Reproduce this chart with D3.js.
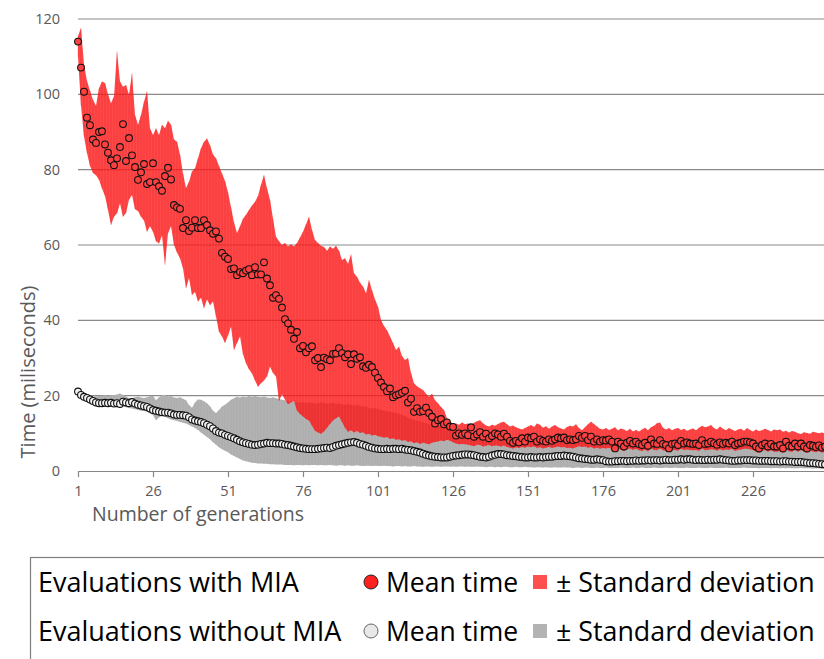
<!DOCTYPE html>
<html>
<head>
<meta charset="utf-8">
<script src="https://cdn.jsdelivr.net/npm/d3@7"></script>
<style>
  body { margin: 0; background: #fff; }
  svg { display: block; font-family: "Open Sans", sans-serif; }
</style>
</head>
<body>
<div id="chart"></div>
<script>
// mean time per generation, evaluations with MIA (gens 1..250)
const meanWithMIA = [
  114, 107.1, 100.7, 93.8, 91.8, 88.0, 87.1, 90.0, 90.2, 86.7,
  84.5, 82.5, 81.2, 83.0, 86.0, 92.1, 82.3, 88.4, 83.8, 80.7,
  77.3, 79.3, 81.5, 76.2, 76.7, 81.7, 76.7, 75.6, 74.4, 78.3,
  80.5, 77.4, 70.6, 70.0, 69.6, 64.5, 66.6, 63.7, 64.6, 66.6,
  64.5, 64.5, 66.6, 65.3, 63.9, 63.0, 63.6, 61.7, 57.9, 56.9,
  56.3, 53.6, 53.8, 52.0, 52.8, 52.5, 53.2, 53.6, 52.0, 54.1,
  52.2, 52.2, 55.4, 51.1, 49.3, 46.0, 46.7, 45.7, 43.4, 40.3,
  39.2, 37.5, 35.1, 36.9, 32.6, 33.2, 31.5, 32.6, 33.1, 29.4,
  30.0, 27.6, 30.1, 29.7, 29.4, 31.1, 31.2, 32.6, 31.3, 30.2,
  31.0, 28.4, 31.0, 29.8, 30.2, 27.8, 27.4, 28.2, 27.6, 26.1,
  24.7, 23.5, 22.3, 21.2, 21.9, 19.6, 20.1, 20.4, 20.8, 21.3,
  18.2, 19.2, 15.7, 16.7, 15.7, 15.9, 16.8, 15.4, 14.4, 12.6,
  13.5, 13.8, 12.4, 12.9, 11.8, 11.7, 9.4, 10.0, 9.6, 10.0,
  9.5, 11.6, 9.1, 9.7, 10.3, 9.1, 9.9, 8.7, 9.3, 10.0,
  9.7, 9.1, 9.9, 9.1, 8.0, 7.5, 8.0, 7.6, 8.7, 7.8,
  8.9, 8.7, 9.1, 7.8, 8.4, 8.0, 7.8, 8.4, 8.0, 8.4,
  8.9, 8.7, 8.9, 8.2, 8.4, 8.2, 8.4, 9.3, 8.8, 9.3,
  8.2, 9.1, 7.8, 8.4, 7.8, 8.2, 8.1, 8.4, 7.8, 6.0,
  7.8, 7.3, 6.5, 7.5, 8.0, 7.3, 7.8, 7.2, 6.9, 7.5,
  6.7, 8.4, 7.3, 7.2, 8.2, 7.2, 6.9, 6.0, 7.2, 7.3,
  6.9, 8.0, 7.3, 7.6, 7.3, 7.2, 7.3, 6.9, 8.2, 7.2,
  7.3, 7.8, 7.4, 7.0, 7.6, 7.2, 7.5, 7.3, 7.8, 6.9,
  7.3, 7.5, 7.8, 7.8, 7.6, 7.3, 6.5, 6.0, 6.9, 7.3,
  6.5, 7.2, 6.5, 6.5, 6.9, 6.0, 7.8, 6.7, 6.5, 7.3,
  6.5, 7.3, 6.5, 6.0, 6.9, 6.7, 6.4, 6.8, 6.2, 6.5
];
// upper edge of the deviation band, with MIA
const highWithMIA = [
  115.5, 117.6, 108, 103.5, 101, 98.5, 97, 101.6, 103.4, 103,
  100, 97.6, 99.5, 111.4, 103.4, 102, 102.5, 99.9, 105.6, 94.5,
  91.9, 94.5, 98, 100.8, 91, 89.2, 91, 89.2, 91.9, 91,
  93, 91.9, 88, 87.4, 84, 79, 75.1, 76.8, 79.5, 80.4,
  83, 85.7, 87.4, 88.3, 86.5, 84, 83, 81, 79, 77,
  74, 70, 66, 63.2, 65, 67, 68, 69.3, 70.5, 71.5,
  73, 76, 78.6, 75, 72, 67, 62.2, 61, 60, 60.5,
  59.6, 60.2, 59.6, 60.5, 62, 63.5, 65.5, 67.5, 64, 61.3,
  60.5, 59.8, 59.5, 58.5, 59.6, 59, 59.8, 58.5, 56, 56.5,
  55, 57.5, 52.5, 51.6, 50, 49, 47.2, 50.7, 48, 45.5,
  43.6, 40.1, 38.5, 37.4, 35.7, 34, 32.1, 33, 30.5, 29.5,
  30, 26, 23.3, 22.5, 22, 21.5, 20.5, 19.7, 20.5, 18.8,
  18, 17, 16.2, 14, 12.7, 12.2, 12.6, 12.3, 12.9, 12.4,
  12.6, 12.2, 12.8, 13.2, 13.5, 12.7, 12.1, 11.8, 12.3, 12.0,
  12.5, 12.9, 13.1, 12.4, 11.8, 12.1, 11.6, 11.3, 11.0, 11.4,
  11.8, 12.2, 11.7, 12.6, 12.3, 11.5, 11.9, 11.2, 11.8, 12.2,
  11.6, 11.3, 11.0, 11.7, 12.0, 11.8, 12.4, 11.4, 10.8, 11.6,
  12.4, 13.1, 12.5, 11.8, 11.2, 11.0, 11.4, 10.9, 11.2, 11.6,
  10.8, 11.3, 11.0, 10.6, 11.2, 10.5, 10.9, 10.5, 11.0, 11.5,
  10.8, 11.6, 12.0, 12.7, 12.9, 11.5, 11.0, 11.4, 10.8, 11.2,
  11.4, 10.9, 11.2, 10.7, 11.0, 11.3, 10.8, 11.5, 12.0, 11.6,
  11.8, 12.2, 11.4, 11.0, 11.8, 11.2, 10.8, 11.4, 11.0, 10.6,
  11.0, 11.2, 10.7, 11.4, 10.9, 10.5, 11.0, 10.6, 10.8, 11.2,
  10.9, 10.5, 11.0, 10.8, 11.0, 10.4, 10.7, 10.2, 10.6, 10.4,
  10.0, 9.8, 10.3, 10.1, 9.9, 10.4, 10.2, 10.0, 10.2, 9.9
];
// lower edge of the deviation band, with MIA
const lowWithMIA = [
  110, 97, 88.8, 84.4, 81, 79.1, 78.5, 77.3, 75, 73,
  69.3, 65.3, 67.5, 68.4, 71, 67.5, 68.5, 72, 73.3, 69.5,
  69, 67.5, 66.5, 63.5, 65, 63.5, 61, 60.4, 62.5, 54.7,
  63.1, 65, 60, 58, 56.5, 53.8, 48.5, 51.2, 46.7, 47.5,
  45, 46, 43.2, 45.5, 44, 45, 41, 37, 35.7, 34,
  36, 38.3, 32.1, 34, 35.7, 31, 28.6, 27, 25.9, 24,
  22.4, 23.3, 24, 25.1, 27.7, 26, 25.1, 18.6, 20.4, 19,
  17.7, 18.2, 18.6, 16, 15.1, 14.5, 13.8, 13.4, 12, 10.7,
  10.2, 9.9, 10.5, 11.5, 12.5, 13.4, 14, 14.5, 13, 11.5,
  10.4, 10.8, 10.2, 10.6, 10.1, 10.3, 9.7, 9.9, 9.4, 9.6,
  9.2, 9.1, 8.8, 9.0, 8.5, 8.7, 8.3, 8.4, 8.0, 8.2,
  7.7, 7.9, 7.4, 7.6, 7.2, 7.5, 7.3, 7.1, 7.5, 7.7,
  7.8, 8.1, 7.9, 8.3, 8.0, 7.6, 7.3, 7.1, 7.2, 7.1,
  7.0, 6.8, 6.6, 7.0, 6.9, 6.5, 6.7, 6.9, 6.6, 6.8,
  6.7, 6.5, 6.8, 6.4, 6.2, 6.0, 6.3, 6.1, 6.4, 6.2,
  6.5, 6.3, 6.6, 6.1, 6.3, 6.0, 6.2, 6.4, 6.1, 6.3,
  6.5, 6.3, 6.4, 6.1, 6.2, 6.0, 6.3, 6.6, 6.4, 6.5,
  6.2, 6.4, 6.0, 6.2, 5.9, 6.1, 6.0, 6.2, 5.8, 5.2,
  5.9, 5.6, 5.3, 5.7, 6.0, 5.6, 5.9, 5.5, 5.3, 5.7,
  5.2, 6.0, 5.6, 5.5, 6.0, 5.5, 5.3, 5.0, 5.5, 5.6,
  5.4, 5.9, 5.6, 5.7, 5.6, 5.5, 5.6, 5.3, 6.0, 5.5,
  5.6, 5.8, 5.7, 5.4, 5.8, 5.5, 5.7, 5.6, 5.9, 5.3,
  5.6, 5.7, 5.9, 5.9, 5.8, 5.6, 5.1, 4.8, 5.3, 5.6,
  5.1, 5.5, 5.1, 5.1, 5.3, 4.8, 5.9, 5.2, 5.1, 5.6,
  5.1, 5.6, 5.1, 4.8, 5.3, 5.2, 5.0, 5.3, 4.9, 5.1
];
// mean time per generation, evaluations without MIA
const meanWithoutMIA = [
  21.1, 20.2, 19.7, 19.4, 19.0, 18.6, 18.2, 18.0, 18.0, 18.1,
  18.0, 18.1, 17.9, 18.0, 17.8, 18.4, 18.2, 18.0, 18.3, 17.9,
  17.6, 17.4, 17.2, 17.0, 16.6, 16.2, 16.0, 15.8, 15.6, 15.5,
  15.5, 15.3, 15.0, 14.9, 14.9, 14.8, 14.7, 14.3, 13.7, 13.4,
  13.2, 13.0, 12.7, 12.3, 11.9, 11.3, 10.6, 10.2, 10.0, 9.6,
  9.3, 9.0, 8.7, 8.3, 7.9, 7.6, 7.4, 7.2, 7.0, 6.9,
  7.0, 7.2, 7.3, 7.5, 7.4, 7.4, 7.3, 7.3, 7.2, 7.0,
  6.9, 6.7, 6.5, 6.3, 6.1, 6.0, 5.9, 5.8, 5.8, 5.8,
  5.9, 6.0, 6.1, 6.2, 6.1, 6.4, 6.7, 6.9, 7.1, 7.3,
  7.5, 7.6, 7.7, 7.5, 7.2, 7.0, 6.7, 6.4, 6.2, 6.0,
  5.9, 5.8, 5.8, 5.9, 5.8, 5.9, 5.9, 5.8, 5.9, 5.7,
  5.6, 5.5, 5.3, 5.1, 4.9, 4.6, 4.3, 4.1, 3.9, 3.8,
  3.7, 3.6, 3.6, 3.6, 3.8, 4.0, 4.1, 4.2, 4.3, 4.4,
  4.4, 4.3, 4.2, 4.0, 3.8, 3.7, 3.6, 3.8, 4.1, 4.3,
  4.5, 4.5, 4.4, 4.2, 4.1, 4.0, 3.9, 3.8, 3.7, 3.6,
  3.6, 3.7, 3.6, 3.6, 3.7, 3.6, 3.7, 3.8, 3.8, 3.9,
  4.0, 4.0, 4.1, 4.0, 3.9, 3.8, 3.6, 3.4, 3.3, 3.2,
  3.1, 3.0, 3.0, 3.1, 3.0, 2.9, 2.6, 2.5, 2.5, 2.6,
  2.6, 2.7, 2.7, 2.6, 2.7, 2.7, 2.8, 2.7, 2.8, 2.8,
  2.9, 2.8, 2.9, 2.9, 2.8, 2.9, 3.0, 2.9, 2.9, 3.0,
  3.0, 3.1, 3.0, 3.1, 3.1, 3.0, 2.9, 3.0, 2.9, 2.9,
  3.0, 2.9, 3.0, 3.0, 3.1, 3.0, 2.9, 2.8, 2.7, 2.7,
  2.8, 2.8, 2.9, 2.9, 2.9, 2.8, 2.8, 2.7, 2.7, 2.7,
  2.7, 2.6, 2.6, 2.6, 2.5, 2.6, 2.6, 2.5, 2.5, 2.4,
  2.4, 2.4, 2.3, 2.2, 2.1, 2.1, 2.0, 1.9, 1.8, 1.7
];
// upper edge of the deviation band, without MIA
const highWithoutMIA = [
  21.3, 20.6, 20.2, 20.0, 19.9, 19.8, 19.8, 19.9, 20.0, 20.1,
  20.0, 20.1, 20.2, 20.3, 20.6, 20.2, 19.8, 19.4, 19.3, 19.6,
  19.8, 19.5, 19.4, 19.6, 19.9, 20.0, 18.8, 19.6, 20.2, 20.1,
  19.8, 19.9, 19.5, 19.4, 19.6, 19.2, 18.8, 17.5, 16.8, 18.2,
  19.0, 18.9, 18.5, 18.0, 17.2, 16.0, 15.4, 16.2, 17.1, 17.6,
  18.2, 18.9, 19.3, 19.7, 19.5, 19.8, 19.6, 20.0, 19.7, 19.9,
  19.7, 19.6, 19.8, 19.5, 19.4, 19.6, 19.3, 19.1, 18.9, 18.8,
  18.6, 18.4, 18.5, 18.2, 18.1, 18.3, 18.0, 18.2, 18.1, 17.9,
  18.0, 18.2, 18.1, 17.9, 18.0, 18.1, 17.8, 18.0, 17.7, 17.6,
  17.8, 17.5, 17.4, 17.6, 17.3, 17.1, 17.2, 16.8, 16.6, 16.7,
  16.4, 16.2, 16.0, 15.9, 15.7, 15.6, 15.4, 15.1, 14.9, 14.6,
  14.2, 13.9, 13.6, 13.4, 13.2, 12.9, 12.7, 12.5, 12.3, 12.2,
  12.0, 11.9, 11.8, 11.7, 11.5, 11.2, 10.8, 10.5, 10.2, 10.0,
  9.9, 9.8, 9.7, 9.6, 9.6, 9.5, 9.4, 9.6, 9.7, 9.5,
  9.4, 9.3, 9.4, 9.2, 9.1, 9.0, 9.1, 8.9, 8.8, 8.9,
  8.8, 8.7, 8.8, 8.6, 8.7, 8.5, 8.6, 8.4, 8.5, 8.3,
  8.4, 8.2, 8.3, 8.1, 8.2, 8.0, 8.1, 7.9, 7.8, 7.9,
  7.7, 7.8, 7.6, 7.7, 7.5, 7.6, 7.4, 7.3, 7.4, 7.2,
  7.2, 7.1, 7.2, 7.0, 7.1, 6.9, 7.0, 6.9, 7.0, 6.8,
  6.9, 7.0, 6.8, 6.9, 7.0, 6.8, 6.9, 6.7, 6.8, 6.9,
  6.8, 6.9, 6.7, 6.8, 6.9, 6.8, 6.7, 6.8, 6.6, 6.7,
  6.8, 6.7, 6.6, 6.7, 6.8, 6.6, 6.7, 6.5, 6.6, 6.7,
  6.6, 6.5, 6.6, 6.7, 6.5, 6.6, 6.4, 6.5, 6.6, 6.4,
  6.5, 6.4, 6.5, 6.3, 6.4, 6.5, 6.3, 6.4, 6.2, 6.3,
  6.2, 6.3, 6.1, 6.2, 6.0, 6.1, 6.0, 5.9, 5.8, 5.9
];
// lower edge of the deviation band, without MIA
const lowWithoutMIA = [
  20.0, 19.4, 18.8, 18.4, 18.0, 17.6, 17.3, 17.1, 17.0, 17.1,
  17.0, 17.1, 17.0, 17.1, 17.0, 17.2, 16.9, 16.7, 16.6, 16.4,
  16.2, 16.0, 15.9, 15.7, 15.3, 14.8, 13.5, 14.2, 14.8, 14.4,
  14.0, 13.7, 13.5, 13.3, 13.0, 12.8, 12.6, 12.2, 11.8, 11.4,
  10.9, 10.2, 9.6, 9.0, 8.4, 7.6, 7.0, 6.3, 5.8, 5.4,
  5.0, 4.4, 4.0, 3.6, 3.2, 2.8, 2.6, 2.4, 2.2, 2.1,
  2.0, 2.0, 1.9, 1.9, 1.8, 1.8, 1.7, 1.7, 1.7, 1.6,
  1.6, 1.6, 1.5, 1.6, 1.6, 1.5, 1.6, 1.5, 1.6, 1.6,
  1.5, 1.6, 1.5, 1.5, 1.6, 1.5, 1.4, 1.5, 1.5, 1.4,
  1.5, 1.4, 1.4, 1.5, 1.4, 1.3, 1.4, 1.4, 1.3, 1.4,
  1.3, 1.3, 1.4, 1.3, 1.3, 1.2, 1.3, 1.3, 1.2, 1.3,
  1.2, 1.2, 1.3, 1.2, 1.2, 1.1, 1.2, 1.2, 1.1, 1.2,
  1.2, 1.1, 1.2, 1.2, 1.1, 1.2, 1.1, 1.2, 1.2, 1.1,
  1.2, 1.1, 1.1, 1.2, 1.1, 1.1, 1.0, 1.1, 1.1, 1.0,
  1.1, 1.0, 1.1, 1.1, 1.0, 1.0, 1.1, 1.0, 1.0, 1.1,
  1.0, 1.0, 0.9, 1.0, 1.0, 0.9, 1.0, 0.9, 0.9, 1.0,
  0.9, 0.9, 1.0, 0.9, 0.9, 0.8, 0.9, 0.9, 0.8, 0.9,
  0.9, 0.8, 0.8, 0.9, 0.8, 0.8, 0.9, 0.8, 0.8, 0.8,
  0.8, 0.9, 0.8, 0.8, 0.8, 0.9, 0.8, 0.8, 0.9, 0.8,
  0.8, 0.8, 0.9, 0.8, 0.8, 0.8, 0.9, 0.8, 0.8, 0.9,
  0.8, 0.8, 0.8, 0.9, 0.8, 0.8, 0.8, 0.9, 0.8, 0.8,
  0.8, 0.9, 0.8, 0.8, 0.8, 0.8, 0.9, 0.8, 0.8, 0.8,
  0.8, 0.8, 0.9, 0.8, 0.8, 0.8, 0.8, 0.7, 0.8, 0.8,
  0.8, 0.7, 0.8, 0.8, 0.7, 0.8, 0.7, 0.8, 0.7, 0.7,
  0.7, 0.8, 0.7, 0.7, 0.7, 0.6, 0.7, 0.7, 0.6, 0.7
];

const yTickValues = [0, 20, 40, 60, 80, 100, 120];
const xTickValues = [1, 26, 51, 76, 101, 126, 151, 176, 201, 226];
const legendRowLabels = ['Evaluations with MIA', 'Evaluations without MIA'];
const legendMeanLabel = 'Mean time';
const legendBandLabel = '\u00B1 Standard deviation';

const width = 824, height = 659;
const textGrey = '#595959';

const svg = d3.select('#chart')
  .append('svg')
  .attr('width', width)
  .attr('height', height);

const x = d3.scaleLinear().domain([1, 250]).range([78, 825]);
const y = d3.scaleLinear().domain([0, 120]).range([471, 19]);

// horizontal gridlines
svg.append('g')
  .selectAll('line')
  .data(yTickValues.filter(d => d > 0))
  .enter().append('line')
  .attr('x1', 78).attr('x2', width)
  .attr('y1', d => y(d)).attr('y2', d => y(d))
  .attr('stroke', '#8a8a8a')
  .attr('stroke-width', 1.2);

// build band rows from the arrays
function bandRows(high, low) {
  return high.map((h, i) => ({ g: i + 1, hi: h, lo: low[i] }));
}
const bandWith = bandRows(highWithMIA, lowWithMIA);
const bandWithout = bandRows(highWithoutMIA, lowWithoutMIA);

const area = d3.area()
  .x(d => x(d.g))
  .y0(d => y(d.lo))
  .y1(d => y(d.hi));

// grey band first, red band on top (semi transparent)
svg.append('path')
  .datum(bandWithout)
  .attr('d', area)
  .attr('fill', '#b3b3b3');

svg.append('g')
  .selectAll('line')
  .data(bandWithout)
  .enter().append('line')
  .attr('x1', d => x(d.g)).attr('x2', d => x(d.g))
  .attr('y1', d => y(d.lo)).attr('y2', d => y(d.hi))
  .attr('stroke', '#9a9a9a')
  .attr('stroke-opacity', 0.35)
  .attr('stroke-width', 1);

svg.append('path')
  .datum(bandWith)
  .attr('d', area)
  .attr('fill', '#ff1a1a')
  .attr('fill-opacity', 0.8);

svg.append('g')
  .selectAll('line')
  .data(bandWith)
  .enter().append('line')
  .attr('x1', d => x(d.g)).attr('x2', d => x(d.g))
  .attr('y1', d => y(d.lo)).attr('y2', d => y(d.hi))
  .attr('stroke', '#d00000')
  .attr('stroke-opacity', 0.22)
  .attr('stroke-width', 1);

// axes
const yAxis = svg.append('g')
  .attr('transform', 'translate(78,0)')
  .call(d3.axisLeft(y).tickValues(yTickValues).tickSize(0).tickPadding(18));
yAxis.select('.domain').remove();
yAxis.selectAll('text')
  .attr('fill', textGrey)
  .style('font-size', '14.5px')
  .style('font-family', '"Open Sans", sans-serif');

const xAxis = svg.append('g')
  .attr('transform', 'translate(0,471)')
  .call(d3.axisBottom(x).tickValues(xTickValues).tickSize(6).tickSizeOuter(0).tickPadding(9).tickFormat(d3.format('d')));
xAxis.select('.domain').attr('stroke', '#868686').attr('stroke-width', 1.2);
xAxis.selectAll('.tick line').attr('stroke', '#868686').attr('stroke-width', 1.2);
xAxis.selectAll('text')
  .attr('fill', textGrey)
  .style('font-size', '14.5px')
  .style('font-family', '"Open Sans", sans-serif');

// markers: without MIA, then with MIA
svg.append('g')
  .selectAll('circle')
  .data(meanWithoutMIA)
  .enter().append('circle')
  .attr('cx', (d, i) => x(i + 1))
  .attr('cy', d => y(d))
  .attr('r', 3.4)
  .attr('fill', '#f2f2f2')
  .attr('stroke', '#111')
  .attr('stroke-width', 1.1);

svg.append('g')
  .selectAll('circle')
  .data(meanWithMIA)
  .enter().append('circle')
  .attr('cx', (d, i) => x(i + 1))
  .attr('cy', d => y(d))
  .attr('r', 3.4)
  .attr('fill', '#ff4040')
  .attr('stroke', '#111')
  .attr('stroke-width', 1.1);

// axis titles
svg.append('text')
  .attr('x', 92).attr('y', 521)
  .attr('fill', textGrey)
  .style('font-size', '19.5px')
  .text('Number of generations');

svg.append('text')
  .attr('transform', 'translate(35,372) rotate(-90)')
  .attr('text-anchor', 'middle')
  .attr('fill', textGrey)
  .style('font-size', '20px')
  .text('Time (miliseconds)');

// legend
const legend = svg.append('g');
legend.append('rect')
  .attr('x', 30.5).attr('y', 557.5)
  .attr('width', 820).attr('height', 140)
  .attr('fill', '#fff')
  .attr('stroke', '#7f7f7f')
  .attr('stroke-width', 1.2);

const legendStyles = [
  { dot: '#ff2020', dotStroke: '#222', square: '#ff5050' },
  { dot: '#e8e8e8', dotStroke: '#666', square: '#b3b3b3' }
];

legendRowLabels.forEach((label, i) => {
  const base = 592 + i * 49;
  const st = legendStyles[i];
  legend.append('text')
    .attr('x', 38).attr('y', base)
    .style('font-size', '27px')
    .attr('fill', '#000')
    .text(label);
  legend.append('circle')
    .attr('cx', 371).attr('cy', base - 10)
    .attr('r', 7)
    .attr('fill', st.dot)
    .attr('stroke', st.dotStroke)
    .attr('stroke-width', 1);
  legend.append('text')
    .attr('x', 386).attr('y', base)
    .style('font-size', '26.5px')
    .attr('fill', '#000')
    .text(legendMeanLabel);
  legend.append('rect')
    .attr('x', 533).attr('y', base - 17)
    .attr('width', 14).attr('height', 14)
    .attr('fill', st.square);
  legend.append('text')
    .attr('x', 556).attr('y', base)
    .style('font-size', '26.8px')
    .attr('fill', '#000')
    .text(legendBandLabel);
});
</script>
</body>
</html>
